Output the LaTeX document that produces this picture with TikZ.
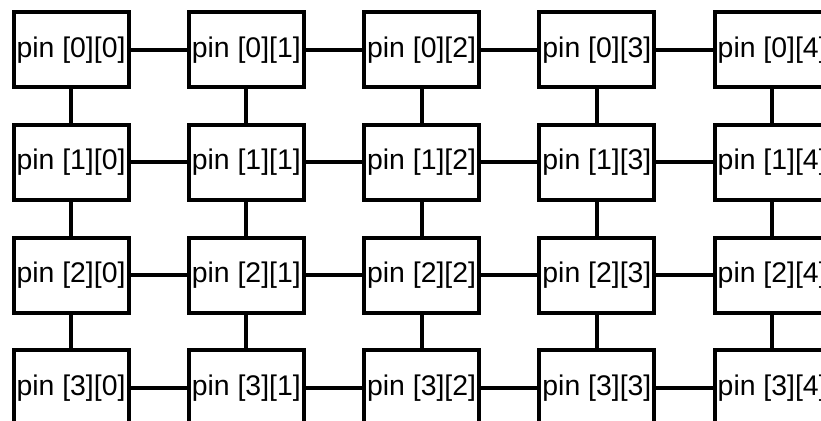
\documentclass[tikz,border=0pt]{standalone}
\usepackage{fontspec}
\setmainfont{Liberation Sans}
\usetikzlibrary{positioning}

\begin{document}
\begin{tikzpicture}[x=1pt, y=-1pt, line width=4pt,
  pinbox/.style={draw, minimum width=115pt, minimum height=75pt, inner sep=0pt,
    font=\fontsize{28.4}{30}\selectfont}]
  \useasboundingbox (0,0) rectangle (821,420);
  % grid of pins
  \foreach \r in {0,...,3}
    \foreach \c in {0,...,4}
      \node[pinbox] (p-\r-\c) at ({71+175.3*\c},{49.7+112.7*\r}) {pin [\r][\c]};
  % row links
  \foreach \r in {0,...,3}
    \foreach \c in {0,...,3}{
      \pgfmathtruncatemacro\nxt{\c+1}
      \draw (p-\r-\c.east) -- (p-\r-\nxt.west);
    }
  % column links
  \foreach \r in {0,...,2}
    \foreach \c in {0,...,4}{
      \pgfmathtruncatemacro\nxt{\r+1}
      \draw (p-\r-\c.south) -- (p-\nxt-\c.north);
    }
\end{tikzpicture}
\end{document}
